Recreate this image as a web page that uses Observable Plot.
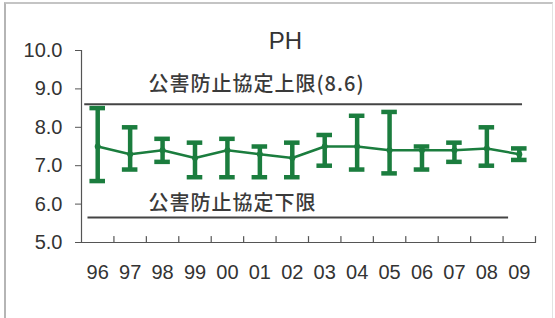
<!DOCTYPE html>
<html>
<head>
<meta charset="utf-8">
<script src="https://cdn.jsdelivr.net/npm/d3@7"></script>
<script src="https://cdn.jsdelivr.net/npm/@observablehq/plot@0.6"></script>
<style>
  html, body { margin: 0; padding: 0; background: #fff; }
  #wrap { position: relative; width: 555px; height: 318px; overflow: hidden; }
  #frame { position: absolute; left: 4px; top: 2px; width: 546px; height: 320px;
           border-left: 2px solid #b5b5b5; border-top: 2px solid #c4c4c4; border-right: 1px solid #e2e2e2; pointer-events: none; }
</style>
</head>
<body>
<div id="wrap"><div id="frame"></div></div>
<script>
const years = ["96","97","98","99","00","01","02","03","04","05","06","07","08","09"];
const meanPH = [7.5, 7.3, 7.4, 7.2, 7.4, 7.3, 7.2, 7.5, 7.5, 7.4, 7.4, 7.4, 7.45, 7.3];
const minPH  = [6.6, 6.9, 7.1, 6.7, 6.7, 6.7, 6.7, 7.0, 6.9, 6.8, 6.9, 7.1, 7.0, 7.15];
const maxPH  = [8.5, 8.0, 7.7, 7.6, 7.7, 7.5, 7.6, 7.8, 8.3, 8.4, 7.5, 7.6, 8.0, 7.45];
const yTicks = [5, 6, 7, 8, 9, 10];
const limitValues = [8.6, 5.65];
const limitLabels = ["公害防止協定上限(8.6)", "公害防止協定下限"];
const title = "PH";

const rows = years.map((y, i) => ({year: y, pos: i + 0.5, mean: meanPH[i], min: minPH[i], max: maxPH[i]}));
const limits = [
  {value: limitValues[0], label: limitLabels[0], x1: 0.1, x2: 13.6, dy: -20},
  {value: limitValues[1], label: limitLabels[1], x1: 0.2, x2: 13.17, dy: -14}
];
const green = "#1b7d3e";
const cap = 0.24;

const chart = Plot.plot({
  width: 555,
  height: 318,
  marginLeft: 81,
  marginRight: 20,
  marginTop: 50,
  marginBottom: 76,
  x: {domain: [0, years.length], axis: null},
  y: {domain: [5, 10], axis: null},
  style: {fontFamily: "'Liberation Sans', Arial, sans-serif", background: "transparent", overflow: "visible"},
  marks: [
    Plot.ruleX([0], {y1: 5, y2: 10, stroke: "#555", strokeWidth: 1.2}),
    Plot.ruleY([5], {x1: 0, x2: years.length, stroke: "#555", strokeWidth: 1.2}),
    Plot.axisY(yTicks, {tickSize: 6, tickPadding: 13, tickFormat: d => d.toFixed(1), fontSize: 20, color: "#333", stroke: "#555"}),
    Plot.vector(d3.range(1, years.length + 1), {
      x: d => d, y: 5, length: 6, rotate: 0, anchor: "start", stroke: "#555", strokeWidth: 1.2,
      shape: {draw(context, l) { context.moveTo(0, 0); context.lineTo(0, -l); }}
    }),
    Plot.axisX(rows.map(d => d.pos), {tickSize: 0, tickPadding: 22, tickFormat: d => years[Math.floor(d)], fontSize: 20, color: "#333"}),
    Plot.ruleY(limits, {y: "value", x1: "x1", x2: "x2", stroke: "#444", strokeWidth: 2}),
    Plot.text(limits.slice(0,1), {y: "value", text: "label", frameAnchor: "left", dx: 67, dy: limits[0].dy, textAnchor: "start", fontSize: 20, fill: "#3a3a3a", fontFamily: "'Noto Sans CJK JP', sans-serif", fontWeight: 500}),
    Plot.text(limits.slice(1), {y: "value", text: "label", frameAnchor: "left", dx: 67, dy: limits[1].dy, textAnchor: "start", fontSize: 20, fill: "#3a3a3a", fontFamily: "'Noto Sans CJK JP', sans-serif", fontWeight: 500}),
    Plot.ruleX(rows, {x: "pos", y1: "min", y2: "max", stroke: green, strokeWidth: 4.5}),
    Plot.ruleY(rows, {y: "max", x1: d => d.pos - cap, x2: d => d.pos + cap, stroke: green, strokeWidth: 4.5}),
    Plot.ruleY(rows, {y: "min", x1: d => d.pos - cap, x2: d => d.pos + cap, stroke: green, strokeWidth: 4.5}),
    Plot.line(rows, {x: "pos", y: "mean", stroke: green, strokeWidth: 2.5}),
    Plot.dot(rows, {x: "pos", y: "mean", r: 3, fill: green}),
    Plot.text([title], {frameAnchor: "top-left", dx: 204, dy: -9, textAnchor: "middle", lineAnchor: "middle", fontSize: 24, fill: "#333"})
  ]
});

d3.select(chart).selectAll("text")
  .filter(function() { return limitLabels.includes(this.textContent); })
  .style("letter-spacing", "1px");
document.getElementById("wrap").insertBefore(chart, document.getElementById("frame"));
</script>
</body>
</html>
